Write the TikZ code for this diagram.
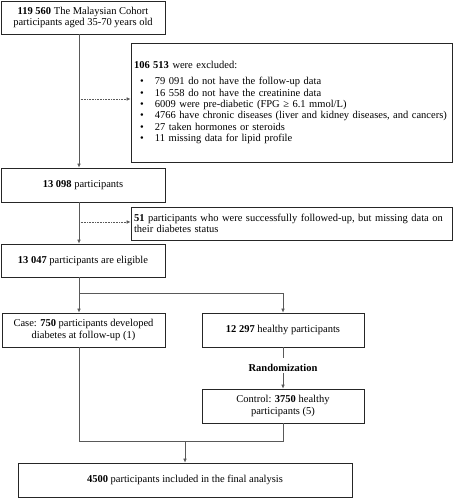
\documentclass[tikz,border=0pt]{standalone}
\usepackage{fontspec}
\setmainfont{Liberation Serif}
\usetikzlibrary{arrows.meta,calc}
\begin{document}
\begin{tikzpicture}[x=1pt,y=-1pt,
  font=\fontsize{10.5}{11.3}\selectfont,
  box/.style={draw=black!85,line width=0.8pt,inner sep=2pt,align=center},
  conn/.style={draw=black!65,line width=0.6pt},
  arr/.style={conn,-{Latex[length=4pt,width=3.6pt]}},
  darr/.style={arr,densely dotted}]
\useasboundingbox (0,0) rectangle (454,500);
\node[box,minimum width=164pt,minimum height=33pt] (b1) at (83,17.5)
  {\textbf{119 560} The Malaysian Cohort\\participants aged 35-70 years old};
\node[box,minimum width=321pt,minimum height=119pt,text width=315pt,align=left] (ex) at (291.5,102.5)
  {\textbf{106 513} were excluded:\\[5pt]
   \hspace*{6pt}\makebox[15pt][l]{\textbullet}79 091 do not have the follow-up data\\
   \hspace*{6pt}\makebox[15pt][l]{\textbullet}16 558 do not have the creatinine data\\
   \hspace*{6pt}\makebox[15pt][l]{\textbullet}6009 were pre-diabetic (FPG ≥ 6.1 mmol/L)\\
   \hspace*{6pt}\makebox[15pt][l]{\textbullet}4766 have chronic diseases (liver and kidney diseases, and cancers)\\
   \hspace*{6pt}\makebox[15pt][l]{\textbullet}27 taken hormones or steroids\\
   \hspace*{6pt}\makebox[15pt][l]{\textbullet}11 missing data for lipid profile\\[4pt]};
\node[box,minimum width=164pt,minimum height=34pt] (b2) at (83,185)
  {\textbf{13 098} participants};
\node[box,minimum width=321pt,minimum height=33pt,text width=315pt,align=left] (ex2) at (291.5,223.5)
  {\textbf{51} participants who were successfully followed-up, but missing data on their diabetes status};
\node[box,minimum width=164pt,minimum height=33pt] (b3) at (83,260.5)
  {\textbf{13 047} participants are eligible};
\node[box,minimum width=163pt,minimum height=34pt] (case) at (83.5,330)
  {Case: \textbf{750} participants developed\\diabetes at follow-up (1)};
\node[box,minimum width=162pt,minimum height=34pt] (hl) at (283,330)
  {\textbf{12 297} healthy participants};
\node[font=\fontsize{10.5}{11.3}\selectfont\bfseries,inner sep=1pt] (rnd) at (283,368) {Randomization};
\node[box,minimum width=162pt,minimum height=34pt] (ctl) at (283,406)
  {Control: \textbf{3750} healthy\\participants (5)};
\node[box,minimum width=334pt,minimum height=34pt] (fin) at (185,480)
  {\textbf{4500} participants included in the final analysis};
% trunk coordinates
\coordinate (tx) at (79,0);
\coordinate (hx) at (283,0);
\coordinate (fx) at (185,0);
\coordinate (d1) at (79,99);
\coordinate (d2) at (79,222);
\coordinate (br) at (79,293);
\coordinate (mg) at (79,441);
\draw[arr] (b1.south -| tx) -- (b2.north -| tx);
\draw[darr] (d1) -- (d1 -| ex.west);
\draw[arr] (b2.south -| tx) -- (b3.north -| tx);
\draw[darr] (d2) -- (d2 -| ex2.west);
\draw[conn] (b3.south -| tx) -- (br);
\draw[arr] (br) -- (case.north -| tx);
\draw[arr] (br) -| (hl.north -| hx);
\draw[conn] (hl.south -| hx) -- ++(0,11);
\draw[arr] (rnd.south -| hx) -- (ctl.north -| hx);
\draw[conn] (case.south -| tx) -- (mg) -| (ctl.south -| hx);
\draw[arr] (mg -| fx) -- (fin.north -| fx);
\end{tikzpicture}
\end{document}
